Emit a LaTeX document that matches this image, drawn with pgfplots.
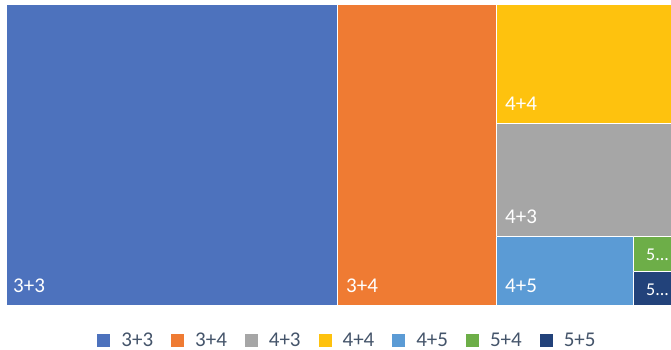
\documentclass[border=0pt]{standalone}
\usepackage{pgfplots}
\pgfplotsset{compat=1.18}
\usepackage{fontspec}
\setmainfont{Carlito}
\definecolor{c33}{HTML}{4D72BD}
\definecolor{c34}{HTML}{EF7B33}
\definecolor{c43}{HTML}{A6A6A6}
\definecolor{c44}{HTML}{FEC20E}
\definecolor{c45}{HTML}{5B9BD5}
\definecolor{c54}{HTML}{6DAE48}
\definecolor{c55}{HTML}{22427A}
\definecolor{legtext}{HTML}{44546A}
\begin{document}
\begin{tikzpicture}
\useasboundingbox (0,0) rectangle (671bp,-350bp);
\begin{axis}[
  at={(6bp,-4bp)}, anchor=north west,
  scale only axis, width=665bp, height=301bp,
  xmin=6, xmax=671, ymin=4, ymax=305, y dir=reverse,
  axis lines=none, ticks=none,
  every axis plot/.append style={draw=white, line width=1bp},
  legend columns=7,
  legend style={at={(0.5135,-0.1163)}, anchor=center, draw=none, fill=none,
    font=\fontsize{21bp}{24bp}\selectfont, text=legtext, inner sep=0pt,
    /tikz/every odd column/.append style={column sep=9bp},
    /tikz/every even column/.append style={column sep=16bp}},
  legend image code/.code={\fill[#1,draw=none] (0bp,-6.5bp) rectangle (13bp,6.5bp);},
]
\addplot[fill=c33] coordinates {(6,4) (337.5,4) (337.5,305) (6,305) (6,4)};
\addplot[fill=c34] coordinates {(337.5,4) (496.5,4) (496.5,305) (337.5,305) (337.5,4)};
\addplot[fill=c43] coordinates {(496.5,123.5) (671,123.5) (671,236.5) (496.5,236.5) (496.5,123.5)};
\addplot[fill=c44] coordinates {(496.5,4) (671,4) (671,123.5) (496.5,123.5) (496.5,4)};
\addplot[fill=c45] coordinates {(496.5,236.5) (633.5,236.5) (633.5,305) (496.5,305) (496.5,236.5)};
\addplot[fill=c54] coordinates {(633.5,236.5) (671,236.5) (671,271.5) (633.5,271.5) (633.5,236.5)};
\addplot[fill=c55] coordinates {(633.5,271.5) (671,271.5) (671,305) (633.5,305) (633.5,271.5)};
\legend{3+3,3+4,4+3,4+4,4+5,5+4,5+5}
\begin{scope}[every node/.style={text=white, font=\fontsize{21bp}{24bp}\selectfont, anchor=base west, inner sep=0pt}]
\node at (axis cs:13,292) {3+3};
\node at (axis cs:346,292) {3+4};
\node at (axis cs:505,292) {4+5};
\node at (axis cs:505,223) {4+3};
\node at (axis cs:505,110) {4+4};
\node[font=\fontsize{18bp}{20bp}\selectfont] at (axis cs:646,260) {5...};
\node[font=\fontsize{18bp}{20bp}\selectfont] at (axis cs:646,295) {5...};
\end{scope}
\end{axis}
\end{tikzpicture}
\end{document}
